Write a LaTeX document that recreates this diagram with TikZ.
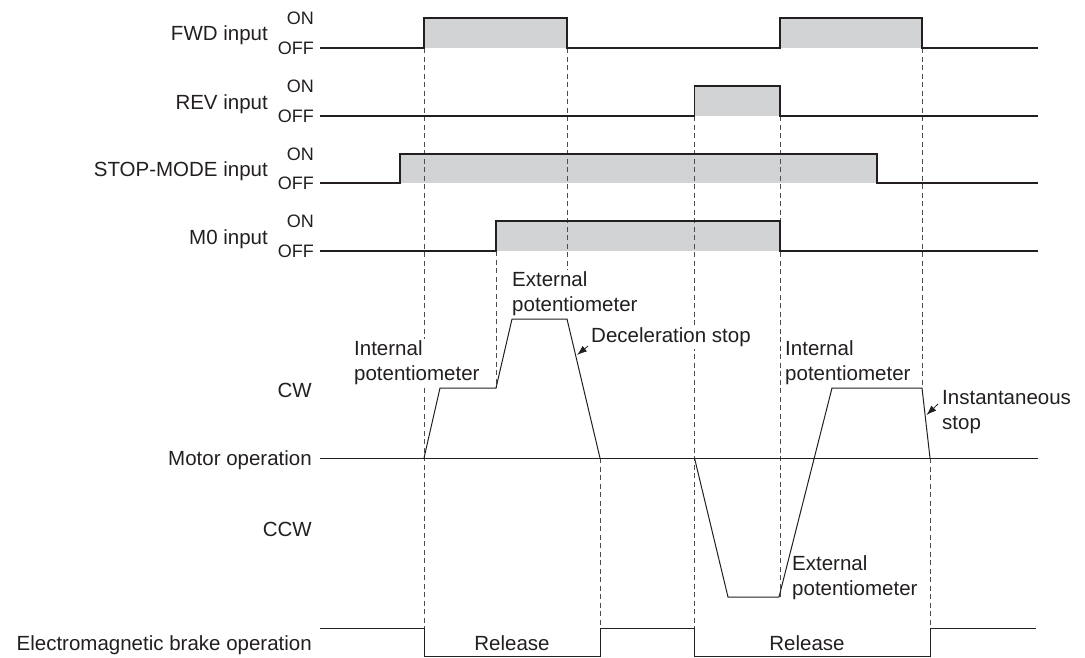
\documentclass[tikz,border=0pt]{standalone}
\usepackage{fontspec}
\setmainfont{Liberation Sans}
\usetikzlibrary{arrows.meta}
\definecolor{sgray}{HTML}{D1D3D4}
\definecolor{dgray}{HTML}{4D4D4F}
\definecolor{ink}{HTML}{231F20}
\begin{document}
\begin{tikzpicture}[x=1pt,y=-1pt,
  sig/.style={draw=ink, line width=1.2pt, line join=miter},
  prof/.style={draw=ink, line width=1pt, line join=miter},
  shade/.style={fill=sgray},
  guide/.style={draw=dgray, line width=0.8pt, dash pattern=on 5pt off 3.5pt},
  lbl/.style={font=\fontsize{20.5}{25}\selectfont, inner sep=0pt, text=ink},
  sml/.style={font=\fontsize{18}{20}\selectfont, inner sep=0pt, text=ink},
  note/.style={lbl, align=left, inner sep=2pt, anchor=north west},
  pointer/.style={draw=ink, -{Latex[length=10pt,width=7pt]}, line width=0.8pt}
]
\useasboundingbox (0,0) rectangle (1085,657);

% ---------- shaded ON regions ----------
\fill[shade] (424,18) rectangle (567,48);
\fill[shade] (780,18) rectangle (922,48);
\fill[shade] (694.5,86) rectangle (780,116);
\fill[shade] (400,154) rectangle (877,183);
\fill[shade] (496,221) rectangle (780,251);

% ---------- dashed guide lines ----------
\draw[guide] (424,48) -- (424,628);
\draw[guide] (567,48) -- (567,319);
\draw[guide] (496,251) -- (496,388);
\draw[guide] (600,458) -- (600,628);
\draw[guide] (694.5,116) -- (694.5,628);
\draw[guide] (780,116) -- (780,597);
\draw[guide] (922,48) -- (922,388);
\draw[guide] (930,458) -- (930,628);

% ---------- input waveforms ----------
\draw[sig] (320,48) -- (424,48) -- (424,18) -- (567,18) -- (567,48) -- (780,48) -- (780,18) -- (922,18) -- (922,48) -- (1038,48);
\draw[sig] (320,116) -- (694.5,116) -- (694.5,86) -- (780,86) -- (780,116) -- (1038,116);
\draw[sig] (320,183) -- (400,183) -- (400,154) -- (877,154) -- (877,183) -- (1038,183);
\draw[sig] (320,251) -- (496,251) -- (496,221) -- (780,221) -- (780,251) -- (1038,251);

% ---------- motor operation ----------
\draw[draw=ink, line width=0.9pt] (320,458) -- (1038,458);
\draw[prof] (424,458) -- (440,388) -- (496,388) -- (512,319) -- (567,319) -- (600,458);
\draw[prof] (694.5,458) -- (728,597) -- (779,597) -- (832,388) -- (922,388) -- (930,458);

% ---------- brake ----------
\draw[sig, line width=1pt] (320,628) -- (424,628) -- (424,656) -- (600,656) -- (600,628) -- (694.5,628) -- (694.5,656) -- (930,656) -- (930,628) -- (1036,628);

% ---------- left labels ----------
\node[lbl, anchor=base east] (fwd) at (268,40.5) {FWD input};
\node[lbl, anchor=base east] (rev) at (268,109.5) {REV input};
\node[lbl, anchor=base east] (stp) at (268,176.5) {STOP-MODE input};
\node[lbl, anchor=base east] (mz) at (268,244.5) {M0 input};

\node[sml, anchor=base east] (on1) at (314,24.5) {ON};
\node[sml, anchor=base east] (off1) at (314,54.5) {OFF};
\node[sml, anchor=base east] (on2) at (314,92.5) {ON};
\node[sml, anchor=base east] (off2) at (314,122.5) {OFF};
\node[sml, anchor=base east] (on3) at (314,160.5) {ON};
\node[sml, anchor=base east] (off3) at (314,189.5) {OFF};
\node[sml, anchor=base east] (on4) at (314,227.5) {ON};
\node[sml, anchor=base east] (off4) at (314,257.5) {OFF};

\node[lbl, anchor=base east] (cw) at (312,397.5) {CW};
\node[lbl, anchor=base east] (mot) at (312,465.5) {Motor operation};
\node[lbl, anchor=base east] (ccw) at (312,536.5) {CCW};
\node[lbl, anchor=base east] (brk) at (312,650) {Electromagnetic brake operation};

\node[lbl, anchor=base] (rel1) at (512,650) {Release};
\node[lbl, anchor=base] (rel2) at (807,650) {Release};

% ---------- annotations ----------
\node[note, fill=white] (int1) at (352,338.7) {Internal\\potentiometer};
\node[note, fill=white] (ext1) at (510,269.7) {External\\potentiometer};
\node[note, fill=white] (dec) at (589,325.7) {Deceleration stop};
\node[note, fill=white] (int2) at (783,338.7) {Internal\\potentiometer};
\node[note] (inst) at (940,387.7) {Instantaneous\\stop};
\node[note] (ext2) at (790,553.7) {External\\potentiometer};

\coordinate (decA) at (588,346);
\coordinate (decB) at (577,355);
\draw[pointer] (decA) -- (decB);
\coordinate (insA) at (938,404);
\coordinate (insB) at (926.5,415);
\draw[pointer] (insA) -- (insB);
\end{tikzpicture}
\end{document}
